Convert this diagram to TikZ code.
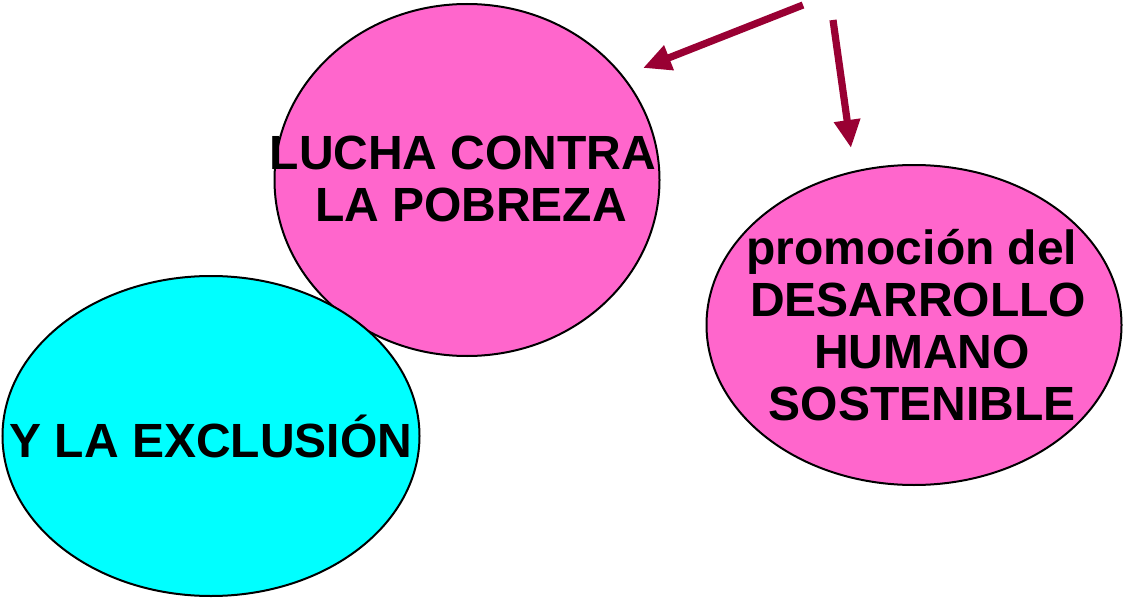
\documentclass[tikz,border=0pt]{standalone}
\usepackage{fontspec}
\setmainfont{Liberation Sans}
\usetikzlibrary{arrows.meta,positioning,shapes.geometric}
\definecolor{cPink}{HTML}{FF66CC}
\definecolor{cCyan}{HTML}{00FFFF}
\definecolor{cArrow}{HTML}{990033}

\begin{document}
\begin{tikzpicture}[x=.5pt,y=-.5pt,
  blob/.style={ellipse,draw=black,line width=1pt,inner sep=0},
  txt/.style={align=center,font=\bfseries\fontsize{24}{26}\selectfont,inner sep=0},
  pointer/.style={cArrow,line width=3.6pt,-{Triangle[length=14pt,width=12.5pt]}}]
  \useasboundingbox (0,0) rectangle (1124,599);
  % the three ovals
  \node[blob,fill=cPink,minimum width=192.5pt,minimum height=176pt] (lucha) at (467,180) {};
  \node[txt] (luchatxt) at ([xshift=-2pt,yshift=.5pt]lucha) {LUCHA CONTRA\\\,\,LA POBREZA};
  \node[blob,fill=cCyan,minimum width=208.5pt,minimum height=160pt] (excl) at (211,436) {};
  \node[txt] (excltxt) at (excl) {Y LA EXCLUSIÓN};
  \node[blob,fill=cPink,minimum width=207.5pt,minimum height=160pt] (desa) at (914,325) {};
  \node[txt] (desatxt) at ([xshift=2pt]desa) {promoción del\hspace*{6pt}\\DESARROLLO\\\,HUMANO\\\,SOSTENIBLE};
  % arrows
  \coordinate (from1) at (803,5);
  \coordinate (to1) at (643,68);
  \coordinate (from2) at (833,20);
  \coordinate (to2) at (851,148);
  \draw[pointer] (from1) -- (to1);
  \draw[pointer] (from2) -- (to2);
\end{tikzpicture}
\end{document}
